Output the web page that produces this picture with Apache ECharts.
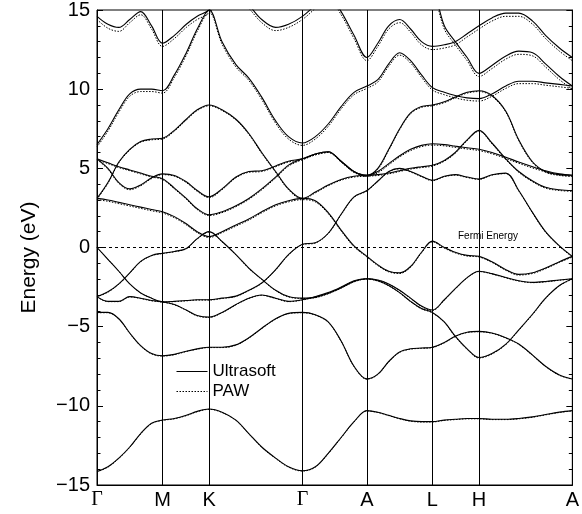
<!DOCTYPE html>
<html><head><meta charset="utf-8">
<script src="https://cdn.jsdelivr.net/npm/echarts@6/dist/echarts.min.js"></script>
<style>html,body{margin:0;padding:0;background:#fff}#c{width:582px;height:514px}</style>
</head><body><div id="c"></div>
<script>
// k-path coordinate (relative path length) and high-symmetry points
const kPath = [0,11,22,33,44,55,66, 78,90,101,113, 126,140,153,166,180,193,207, 220,233,246,259,272, 283,294,305,316,327,338, 350,361,373,385, 398,412,425,439,452,466,479];
const kTicks = [0,66,113,207,272,338,385,479];
const kLabels = ['Γ','M','K','Γ','A','L','H','A'];
const energyTicks = [-15,-10,-5,0,5,10,15];
const fermiLevel = 0;

// Ultrasoft bands (eV)
const usBand1 = [14.6,14.1,13.9,14.4,14.9,14.0,12.9, 13.4,14.1,14.6,15.0, 16,16,15.3,14.4,13.9,14.1,14.6, 15.3,16,14.9,13.4,12.0, 12.9,14.0,14.4,13.8,13.0,12.7, 12.8,13.0,13.5,14.0, 14.5,14.8,14.8,14.3,13.4,12.6,12.0];
const usBand2 = [17,17,17,17,17,17,17, 17,17,17,17, 17,17,17,17,17,17,17, 17,17,17,17,17, 17,17,17,17,17,16.5, 14.0,13.0,12.0,11.0, 11.5,12.1,12.4,12.3,11.6,10.8,10.2];
const usBand3 = [6.5,7.5,8.7,9.7,10.0,10.0,9.9, 10.9,12.3,13.8,15.0, 13.0,11.55,10.7,9.5,8.0,7.0,6.6, 7.0,7.8,8.9,9.8,10.2, 10.6,11.6,12.3,11.8,10.9,10.1, 9.8,9.6,9.45,9.4, 9.7,10.2,10.5,10.5,10.4,10.3,10.2];
const usBand4 = [3.1,4.1,5.4,6.2,6.7,6.85,6.9, 7.4,8.1,8.7,9.0, 8.7,8.1,7.2,6.0,4.8,3.7,3.1, 3.5,3.95,4.3,4.5,4.56, 4.6,4.7,4.85,5.0,5.1,5.19, 5.5,6.0,6.8,7.4, 6.6,5.6,4.8,4.2,3.8,3.65,3.6];
const usBand5 = [5.6,5.0,4.1,3.7,3.95,4.4,4.65, 4.55,4.15,3.6,3.2, 3.7,4.45,4.8,4.85,5.15,5.45,5.6, 5.9,6.05,5.45,4.8,4.56, 5.0,6.2,7.5,8.5,8.9,9.0, 9.2,9.5,9.8,9.9, 9.6,8.6,6.8,5.4,4.8,4.6,4.56];
const usBand6 = [5.6,5.35,5.1,4.9,4.7,4.5,4.35, 3.75,3.1,2.45,2.07, 2.26,2.64,3.1,3.7,4.45,5.2,5.6, 5.9,6.05,5.45,4.8,4.56, 4.8,5.3,5.8,6.2,6.45,6.55, 6.5,6.4,6.3,6.2, 6.0,5.7,5.4,5.1,4.85,4.65,4.56];
const usBand7 = [3.1,3.0,2.85,2.7,2.55,2.4,2.26, 1.95,1.5,1.0,0.69, 1.0,1.42,1.8,2.26,2.7,2.95,3.1, 2.95,2.2,1.1,0.1,-0.56, -1.1,-1.5,-1.6,-1.2,-0.3,0.4, 0.0,-0.3,-0.5,-0.56, -0.9,-1.4,-1.7,-1.6,-1.3,-0.9,-0.56];
const usBand8 = [0.0,-0.75,-1.5,-2.3,-2.87,-3.2,-3.43, -3.4,-3.35,-3.3,-3.3, -3.2,-3.07,-2.7,-2.24,-1.4,-0.45,0.2, 0.3,0.9,2.1,3.2,3.6, 4.2,4.8,5.0,4.8,4.5,4.25, 4.5,4.6,4.45,4.33, 4.6,4.7,3.6,2.2,1.0,0.1,-0.56];
const usBand9 = [-3.1,-2.8,-2.3,-1.6,-0.88,-0.5,-0.36, -0.25,-0.06,0.56,1.0, 0.38,-0.45,-1.3,-2.0,-2.7,-3.1,-3.2, -3.15,-2.9,-2.55,-2.15,-1.97, -2.05,-2.3,-2.7,-3.2,-3.7,-3.95, -3.3,-2.6,-1.9,-1.5, -1.65,-1.9,-2.1,-2.2,-2.15,-2.05,-1.97];
const usBand10 = [-3.1,-3.4,-3.4,-3.1,-3.2,-3.35,-3.43, -3.6,-3.95,-4.3,-4.4, -4.1,-3.6,-3.2,-3.0,-3.2,-3.4,-3.3, -3.1,-2.85,-2.5,-2.1,-1.97, -2.1,-2.4,-2.85,-3.4,-3.85,-4.1, -4.7,-5.6,-6.4,-6.95, -6.7,-6.1,-5.2,-4.2,-3.2,-2.4,-1.97];
const usBand11 = [-4.1,-4.1,-4.5,-5.4,-6.2,-6.7,-6.84, -6.75,-6.55,-6.4,-6.3, -6.3,-6.15,-5.7,-5.1,-4.5,-4.16,-4.1, -4.25,-4.7,-5.9,-7.5,-8.3, -8.0,-7.2,-6.6,-6.4,-6.35,-6.3, -6.0,-5.6,-5.35,-5.3, -5.4,-5.7,-6.1,-6.8,-7.5,-8.05,-8.3];
const usBand12 = [-14.15,-13.85,-13.3,-12.6,-11.75,-11.1,-10.9, -10.8,-10.6,-10.35,-10.2, -10.4,-10.9,-11.75,-12.6,-13.3,-13.85,-14.1, -13.85,-13.0,-12.0,-11.0,-10.3, -10.4,-10.6,-10.8,-10.95,-11.0,-11.0, -10.9,-10.85,-10.8,-10.8, -10.85,-10.85,-10.8,-10.7,-10.55,-10.4,-10.3];

// PAW bands (eV)
const pawBand1 = [14.4,13.85,13.65,14.2,14.7,13.8,12.7, 13.2,13.9,14.4,14.8, 15.8,15.8,15.1,14.2,13.7,13.9,14.4, 15.1,15.8,14.7,13.2,11.8, 12.7,13.8,14.2,13.6,12.8,12.5, 12.6,12.8,13.3,13.8, 14.3,14.6,14.6,14.1,13.2,12.4,11.8];
const pawBand2 = [17,17,17,17,17,17,17, 17,17,17,17, 17,17,17,17,17,17,17, 17,17,17,17,17, 17,17,17,17,17,16.3, 13.8,12.8,11.8,10.8, 11.3,11.9,12.2,12.1,11.4,10.6,10.0];
const pawBand3 = [6.35,7.35,8.55,9.55,9.85,9.85,9.75, 10.75,12.15,13.65,14.85, 12.85,11.4,10.55,9.35,7.85,6.85,6.45, 6.85,7.65,8.75,9.65,10.05, 10.45,11.45,12.15,11.65,10.75,9.95, 9.65,9.45,9.3,9.25, 9.55,10.05,10.35,10.35,10.25,10.15,10.05];
const pawBand4 = [3.05,4.05,5.35,6.15,6.65,6.8,6.85, 7.35,8.05,8.65,8.95, 8.65,8.05,7.15,5.95,4.75,3.65,3.05, 3.45,3.9,4.25,4.45,4.5, 4.55,4.65,4.8,4.95,5.05,5.14, 5.45,5.95,6.75,7.35, 6.55,5.55,4.75,4.15,3.75,3.6,3.55];
const pawBand5 = [5.55,4.95,4.05,3.65,3.9,4.35,4.6, 4.5,4.1,3.55,3.15, 3.65,4.4,4.75,4.8,5.1,5.4,5.55, 5.85,6.0,5.4,4.75,4.5, 4.95,6.15,7.45,8.45,8.85,8.95, 9.15,9.45,9.75,9.85, 9.55,8.55,6.75,5.35,4.75,4.55,4.5];
const pawBand6 = [5.55,5.3,5.05,4.85,4.65,4.45,4.3, 3.7,3.05,2.4,2.02, 2.2,2.58,3.04,3.64,4.39,5.14,5.55, 5.85,6.0,5.4,4.75,4.5, 4.72,5.22,5.72,6.12,6.37,6.47, 6.42,6.32,6.22,6.12, 5.92,5.62,5.32,5.02,4.78,4.58,4.5];
const pawBand7 = [3.02,2.92,2.77,2.62,2.47,2.32,2.18, 1.88,1.43,0.94,0.63, 0.94,1.35,1.73,2.19,2.63,2.88,3.02, 2.88,2.14,1.05,0.05,-0.6, -1.14,-1.54,-1.64,-1.24,-0.34,0.36, -0.04,-0.34,-0.54,-0.6, -0.94,-1.44,-1.74,-1.64,-1.34,-0.94,-0.6];
const pawBand8 = [0.0,-0.75,-1.5,-2.3,-2.87,-3.2,-3.45, -3.42,-3.37,-3.32,-3.32, -3.22,-3.09,-2.72,-2.26,-1.42,-0.47,0.18, 0.28,0.88,2.07,3.17,3.57, 4.17,4.77,4.97,4.77,4.47,4.22, 4.47,4.57,4.42,4.3, 4.57,4.67,3.57,2.17,0.97,0.07,-0.6];
const pawBand9 = [-3.12,-2.82,-2.32,-1.62,-0.9,-0.52,-0.38, -0.27,-0.08,0.54,0.98, 0.36,-0.47,-1.32,-2.02,-2.72,-3.12,-3.22, -3.17,-2.92,-2.57,-2.17,-1.99, -2.07,-2.32,-2.72,-3.22,-3.72,-3.98, -3.32,-2.62,-1.92,-1.52, -1.67,-1.92,-2.12,-2.22,-2.17,-2.07,-1.99];
const pawBand10 = [-3.12,-3.42,-3.42,-3.12,-3.22,-3.37,-3.45, -3.62,-3.97,-4.32,-4.42, -4.12,-3.62,-3.22,-3.02,-3.22,-3.42,-3.32, -3.12,-2.87,-2.52,-2.12,-1.99, -2.12,-2.42,-2.87,-3.42,-3.87,-4.13, -4.73,-5.63,-6.43,-6.98, -6.73,-6.13,-5.23,-4.23,-3.23,-2.42,-1.99];
const pawBand11 = [-4.12,-4.12,-4.52,-5.42,-6.22,-6.72,-6.86, -6.77,-6.57,-6.42,-6.32, -6.32,-6.17,-5.72,-5.12,-4.52,-4.18,-4.12, -4.27,-4.72,-5.92,-7.52,-8.32, -8.02,-7.22,-6.62,-6.42,-6.37,-6.32, -6.02,-5.62,-5.37,-5.32, -5.42,-5.72,-6.12,-6.82,-7.52,-8.07,-8.32];
const pawBand12 = [-14.17,-13.87,-13.32,-12.62,-11.77,-11.12,-10.92, -10.82,-10.62,-10.37,-10.22, -10.42,-10.92,-11.77,-12.62,-13.32,-13.87,-14.12, -13.87,-13.02,-12.02,-11.02,-10.32, -10.42,-10.62,-10.82,-10.97,-11.02,-11.02, -10.92,-10.87,-10.82,-10.82, -10.87,-10.87,-10.82,-10.72,-10.57,-10.42,-10.32];

const ultrasoftBands = [usBand1,usBand2,usBand3,usBand4,usBand5,usBand6,usBand7,usBand8,usBand9,usBand10,usBand11,usBand12];
const pawBands = [pawBand1,pawBand2,pawBand3,pawBand4,pawBand5,pawBand6,pawBand7,pawBand8,pawBand9,pawBand10,pawBand11,pawBand12];

const toData = b => kPath.map((k, i) => [k, b[i]]);
const series = [];
pawBands.forEach(b => series.push({
  type: 'line', name: 'PAW', data: toData(b), symbol: 'none', smooth: 0.35,
  itemStyle: { color: '#000' },
  lineStyle: { color: '#000', width: 1, type: [1.5, 1.5] }, z: 2, silent: true
}));
ultrasoftBands.forEach(b => series.push({
  type: 'line', name: 'Ultrasoft', data: toData(b), symbol: 'none', smooth: 0.35,
  itemStyle: { color: '#000' },
  lineStyle: { color: '#000', width: 1.1 }, z: 3, silent: true
}));
// Fermi level (dashed)
series.push({
  type: 'line', name: 'Fermi', data: [[kTicks[0], fermiLevel], [kTicks[kTicks.length - 1], fermiLevel]],
  symbol: 'none', silent: true, z: 1,
  lineStyle: { color: '#000', width: 1, type: [3, 3] }
});
// high-symmetry vertical lines
series.push({
  type: 'line', name: 'ref', data: [], silent: true,
  markLine: {
    symbol: 'none', silent: true, animation: false, label: { show: false },
    lineStyle: { color: '#000', width: 1, type: 'solid' },
    data: kTicks.slice(1, -1).map(k => ({ xAxis: k }))
  }
});

const fmtE = v => (v < 0 ? '\u2212' + Math.abs(v) : String(v));
const chart = echarts.init(document.getElementById('c'), null, { renderer: 'canvas' });
chart.setOption({
  animation: false,
  backgroundColor: '#fff',
  grid: { left: 97, top: 7, width: 479, height: 478, show: true, borderColor: '#000', borderWidth: 1, backgroundColor: 'transparent' },
  legend: {
    data: ['Ultrasoft', 'PAW'], orient: 'vertical', left: 171, top: 358,
    itemWidth: 31, itemHeight: 14, itemGap: 3,
    itemStyle: { opacity: 0 },
    lineStyle: { width: 1 },
    textStyle: { fontSize: 17, color: '#000', fontFamily: 'Liberation Sans' },
    selectedMode: false
  },
  xAxis: {
    type: 'value', min: 0, max: 479,
    axisLine: { show: true, onZero: false, lineStyle: { color: '#000' } },
    axisTick: { show: false }, splitLine: { show: false },
    axisLabel: {
      customValues: kTicks, margin: 5, color: '#000',
      formatter: v => { const l = kLabels[kTicks.indexOf(v)]; return l === 'Γ' ? '{g|Γ}' : '{s|' + l + '}'; },
      rich: {
        g: { fontFamily: 'Liberation Serif', fontSize: 20, color: '#000' },
        s: { fontFamily: 'Liberation Sans', fontSize: 20, color: '#000' }
      }
    }
  },
  yAxis: [{
    type: 'value', min: -15, max: 15, interval: 5, position: 'left',
    axisLine: { show: true, onZero: false, lineStyle: { color: '#000' } },
    axisTick: { show: true, inside: true, length: 6, lineStyle: { color: '#000' } },
    minorTick: { show: true, splitNumber: 5, length: 3.5, lineStyle: { color: '#000' } },
    splitLine: { show: false },
    axisLabel: { color: '#000', fontSize: 20, margin: 7, fontFamily: 'Liberation Sans', customValues: energyTicks, formatter: fmtE },
    name: 'Energy (eV)', nameLocation: 'middle', nameGap: 57,
    nameTextStyle: { fontSize: 21, color: '#000', fontFamily: 'Liberation Sans', padding: [0, 20, 0, 0] }
  }, {
    type: 'value', min: -15, max: 15, interval: 5, position: 'right',
    axisLine: { show: true, onZero: false, lineStyle: { color: '#000' } },
    axisTick: { show: true, inside: true, length: 6, lineStyle: { color: '#000' } },
    minorTick: { show: true, splitNumber: 5, length: 3.5, lineStyle: { color: '#000' } },
    splitLine: { show: false }, axisLabel: { show: false }
  }],
  graphic: [{
    type: 'text', left: 458, top: 231,
    style: { text: 'Fermi Energy', fontSize: 10, fill: '#000', fontFamily: 'Liberation Sans' }
  }],
  series: series
});
</script></body></html>
